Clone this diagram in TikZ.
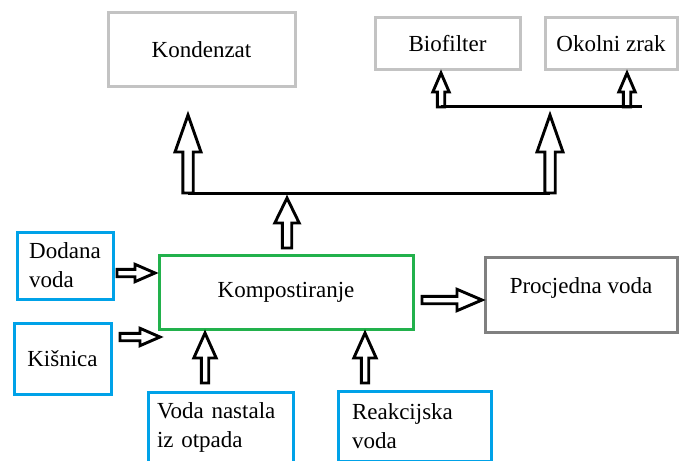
\documentclass[tikz,border=0pt]{standalone}
\usepackage{fontspec}
\setmainfont{Liberation Serif}
\usetikzlibrary{calc}

\definecolor{boxgray}{HTML}{C3C3C3}
\definecolor{boxdark}{HTML}{808080}
\definecolor{boxgreen}{HTML}{22B14C}
\definecolor{boxblue}{HTML}{00A2E8}

\tikzset{
  box/.style={draw=#1, line width=1.5pt, rectangle, inner sep=0pt, outer sep=0pt},
  hollow/.style args={#1/#2/#3}{line width=1.45pt, line join=miter, to path={
    let \p1=(\tikztostart), \p2=(\tikztotarget), \p3=($(\p2)!#3!(\p1)$) in
    ($(\p1)!#1!90:(\p2)$) -- ($(\p3)!#1!90:(\p2)$) -- ($(\p3)!#2!90:(\p2)$)
    -- (\p2) -- ($(\p3)!#2!-90:(\p2)$) -- ($(\p3)!#1!-90:(\p2)$)
    -- ($(\p1)!#1!-90:(\p2)$) -- cycle}},
  bigarrow/.style={hollow=2.6pt/6.5pt/18.5pt},
  midarrow/.style={hollow=2.35pt/6.1pt/12.5pt},
  smallarrow/.style={hollow=1.85pt/4.1pt/9.5pt},
  sidearrow/.style={hollow=1.85pt/4.35pt/10pt},
  inarrow/.style={hollow=1.85pt/5.35pt/12.5pt},
  uparrow/.style={hollow=1.85pt/5.6pt/12.5pt},
  bus/.style={line width=1.5pt},
}

\begin{document}
\begin{tikzpicture}[x=.5pt, y=-.5pt, font=\fontsize{11.5}{14.5}\selectfont]
  \useasboundingbox (0,0) rectangle (679,460);
  \clip (0,0) rectangle (679,460);

  \node[box=boxgray, minimum width=93.5pt, minimum height=37pt] (kond) at (201.5,50) {Kondenzat};
  \node[box=boxgray, minimum width=72.5pt, minimum height=26pt] (biof) at (447.5,44) {Biofilter};
  \node[box=boxgray, minimum width=66pt, minimum height=26pt] (okol) at (611,44) {Okolni zrak};
  \node[box=boxgreen, minimum width=127pt, minimum height=37pt] (komp) at (286,292) {Kompostiranje};
  \node[box=boxdark, minimum width=96pt, minimum height=37.5pt, text depth=8.5pt] (proc) at (581,294.5) {Procjedna voda};
  \node[box=boxblue, minimum width=48pt, minimum height=33.5pt, align=left] (doda) at (65,265.5) {Dodana\\voda};
  \node[box=boxblue, minimum width=48.5pt, minimum height=35.5pt] (kisn) at (62.5,358.5) {Kišnica};
  \node[box=boxblue, anchor=north west, text width=63.5pt, inner xsep=4.5pt, minimum height=35pt, align=left] (vnio) at (148,392) {Voda nastala\\iz otpada};
  \node[box=boxblue, anchor=north west, text width=62.5pt, inner xsep=7pt, minimum height=35pt, align=left] (reak) at (338,391) {Reakcijska\\voda};

  \coordinate (busL) at (188,193);
  \coordinate (busR) at (550,193);
  \coordinate (topL) at (441,107);
  \coordinate (topR) at (642,107);

  \draw[bus] (busL) -- (busR);
  \draw[bus] (topL) -- (topR);

  \draw[bigarrow] (busL) to ($(busL |- kond.south)+(0,28)$);
  \draw[bigarrow] (busR) to ($(busR |- topL)+(0,8)$);
  \draw[midarrow] ($(komp.north)+(1,-7)$) to ($(komp.north |- busL)+(1,5)$);
  \draw[smallarrow] (topL) to ($(topL |- biof.south)+(0,3)$);
  \draw[smallarrow] ($(topR)+(-15,0)$) to ($(topR |- okol.south)+(-15,3)$);
  \draw[sidearrow] ($(doda.east)+(4,7.5)$) to ($(doda.east -| komp.west)+(-4,7.5)$);
  \draw[sidearrow] ($(kisn.east)+(9,-21.5)$) to ($(kisn.east -| komp.west)+(1,-21.5)$);
  \draw[inarrow] ($(komp.east)+(9,8)$) to ($(komp.east -| proc.west)+(-3,8)$);
  \draw[uparrow] ($(vnio.north west)+(57,-9)$) to ($(vnio.north west |- komp.south)+(57,4)$);
  \draw[uparrow] ($(reak.north west)+(27,-8)$) to ($(reak.north west |- komp.south)+(27,4)$);
\end{tikzpicture}
\end{document}
